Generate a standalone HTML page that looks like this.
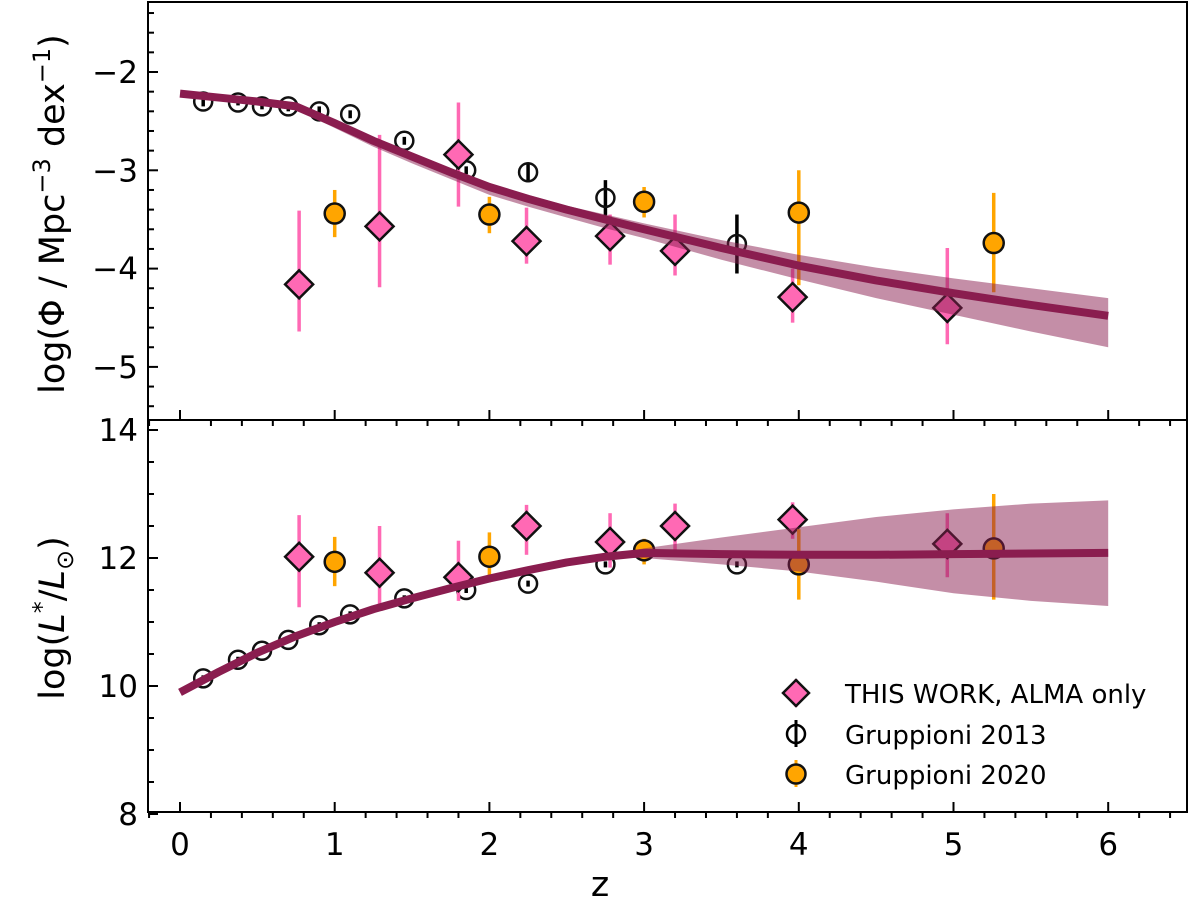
<!DOCTYPE html>
<html><head><meta charset="utf-8"><style>
html,body{margin:0;padding:0;background:#fff;}
svg{display:block;font-family:"DejaVu Sans","Liberation Sans",sans-serif;}
</style></head><body>
<svg id="chart" width="1200" height="908" viewBox="0 0 1200 908" xmlns="http://www.w3.org/2000/svg">
<g id="marks"></g>
<g id="axes"></g>
<text x="600" y="896" font-size="35" text-anchor="middle">z</text>
<text transform="translate(64,214) rotate(-90)" font-size="35" text-anchor="middle">log(Φ / Mpc<tspan dy="-14" font-size="24">−3</tspan><tspan dy="14"> dex</tspan><tspan dy="-14" font-size="24">−1</tspan><tspan dy="14">)</tspan></text>
<text transform="translate(64,618) rotate(-90)" font-size="35" text-anchor="middle">log(<tspan font-style="italic">L</tspan><tspan dy="-14" font-size="24">*</tspan><tspan dy="14">/</tspan><tspan font-style="italic">L</tspan><tspan dy="9" font-size="24">⊙</tspan><tspan dy="-9">)</tspan></text>
<g>
 <g>
  <line x1="796" y1="679" x2="796" y2="707" stroke="#ff69b4" stroke-width="3"/>
  <polygon points="796,680 809,693 796,706 783,693" fill="#ff69b4" stroke="#111" stroke-width="2.5"/>
  <text x="845" y="703" font-size="26">THIS WORK, ALMA only</text>
 </g>
 <g>
  <line x1="796" y1="720" x2="796" y2="747" stroke="#000" stroke-width="3"/>
  <circle cx="796" cy="734" r="9" fill="none" stroke="#000" stroke-width="2.5"/>
  <text x="845" y="744" font-size="26">Gruppioni 2013</text>
 </g>
 <g>
  <line x1="796" y1="760" x2="796" y2="787" stroke="#ffa500" stroke-width="3"/>
  <circle cx="796" cy="774" r="9.5" fill="#ffa500" stroke="#111" stroke-width="2.5"/>
  <text x="845" y="784" font-size="26">Gruppioni 2020</text>
 </g>
</g>
</svg>
<script>
// ---- data ----
const zThis = [0.77,1.29,1.8,2.24,2.78,3.2,3.96,4.96];
const phiThis = [-4.16,-3.57,-2.84,-3.72,-3.67,-3.82,-4.29,-4.4];
const phiThisHi = [-3.41,-2.64,-2.31,-3.38,-3.45,-3.45,-4.0,-3.79];
const phiThisLo = [-4.64,-4.19,-3.37,-3.95,-3.96,-4.07,-4.55,-4.77];
const lThis = [12.02,11.77,11.7,12.5,12.25,12.5,12.6,12.22];
const lThisHi = [12.67,12.5,12.27,12.83,12.7,12.85,12.87,12.7];
const lThisLo = [11.23,11.19,11.33,12.05,11.85,12.1,12.3,11.7];

const z13 = [0.15,0.375,0.53,0.7,0.9,1.1,1.45,1.85,2.25,2.75,3.6];
const phi13 = [-2.3,-2.31,-2.35,-2.35,-2.4,-2.43,-2.7,-3.0,-3.02,-3.28,-3.75];
const phi13Err = [0.05,0.03,0.03,0.05,0.05,0.04,0.04,0.04,0.1,0.18,0.3];
const l13 = [10.12,10.41,10.55,10.72,10.95,11.12,11.37,11.5,11.6,11.9,11.9];

const z20 = [1,2,3,4,5.26];
const phi20 = [-3.44,-3.45,-3.32,-3.43,-3.74];
const phi20Hi = [-3.2,-3.27,-3.17,-3.0,-3.23];
const phi20Lo = [-3.68,-3.64,-3.48,-4.17,-4.24];
const l20 = [11.94,12.02,12.12,11.9,12.15];
const l20Hi = [12.33,12.4,12.3,12.45,13.0];
const l20Lo = [11.56,11.62,11.9,11.35,11.35];

const zCurve = [0,0.25,0.5,0.75,1,1.25,1.5,1.75,2,2.25,2.5,2.75,3,3.5,4,4.5,5,5.5,6];
const phiCurve = [-2.22,-2.26,-2.3,-2.35,-2.52,-2.7,-2.86,-3.02,-3.17,-3.29,-3.4,-3.5,-3.6,-3.79,-3.97,-4.12,-4.25,-4.37,-4.48];
const phiBandHi = [-2.22,-2.26,-2.3,-2.35,-2.5,-2.68,-2.84,-2.99,-3.14,-3.25,-3.36,-3.45,-3.54,-3.71,-3.86,-3.99,-4.1,-4.2,-4.3];
const phiBandLo = [-2.25,-2.29,-2.33,-2.38,-2.57,-2.76,-2.93,-3.09,-3.25,-3.37,-3.48,-3.59,-3.69,-3.91,-4.11,-4.3,-4.47,-4.64,-4.8];
const lCurve = [9.9,10.22,10.52,10.78,11.0,11.2,11.37,11.53,11.68,11.81,11.93,12.02,12.08,12.06,12.05,12.05,12.06,12.07,12.08];
const lBandHi = [9.9,10.22,10.52,10.78,11.0,11.2,11.37,11.53,11.68,11.81,11.94,12.04,12.15,12.32,12.48,12.64,12.76,12.85,12.9];
const lBandLo = [9.9,10.22,10.52,10.78,11.0,11.2,11.37,11.53,11.68,11.81,11.92,12.0,12.0,11.9,11.79,11.63,11.45,11.33,11.25];

const xTicks = [0,1,2,3,4,5,6];
const topTicks = [-2,-3,-4,-5];
const botTicks = [8,10,12,14];

// ---- axes functions ----
const X0=148, X1=1187, TOP0=2, TOP1=420, BOT1=812;
const xs = z => 180 + 154.7*z;
const yt = v => 72 + (-2 - v)*98.3;
const yb = v => 558 - (v-12)*64;
const NS='http://www.w3.org/2000/svg';
function mk(parent, tag, attrs){const e=document.createElementNS(NS,tag);for(const k in attrs)e.setAttribute(k,attrs[k]);parent.appendChild(e);return e;}
const marks=document.getElementById('marks');
const axes=document.getElementById('axes');

function errbar(x,y1,y2,color,name){
  const e=mk(marks,'line',{x1:x,x2:x,y1:y1,y2:y2,stroke:color,'stroke-width':3.5});
  
  
}
function diamond(x,y,name){
  const e=mk(marks,'polygon',{points:`${x},${y-14} ${x+14},${y} ${x},${y+14} ${x-14},${y}`,fill:'#ff69b4',stroke:'#111','stroke-width':2.5});
  
  
}
function circ(x,y,fill,name){
  const e=mk(marks,'circle',{cx:x,cy:y,r:fill==='none'?9:10,fill:fill==='none'?'#fff':fill,'fill-opacity':fill==='none'?0:1,stroke:'#111','stroke-width':2.5});
  
  
}

z13.forEach((z,i)=>{
  const x=xs(z);
  errbar(x,yt(phi13[i]+phi13Err[i]),yt(phi13[i]-phi13Err[i]),'#000','g13-phi-error');
  circ(x,yt(phi13[i]),'none','g13-phi-point');
  errbar(x,yb(l13[i])-3,yb(l13[i])+3,'#000','g13-l-error');
  circ(x,yb(l13[i]),'none','g13-l-point');
});
zThis.forEach((z,i)=>{
  const x=xs(z);
  errbar(x,yt(phiThisHi[i]),yt(phiThisLo[i]),'#ff69b4','this-work-phi-error');
  diamond(x,yt(phiThis[i]),'this-work-phi-point');
  errbar(x,yb(lThisHi[i]),yb(lThisLo[i]),'#ff69b4','this-work-l-error');
  diamond(x,yb(lThis[i]),'this-work-l-point');
});
z20.forEach((z,i)=>{
  const x=xs(z);
  errbar(x,yt(phi20Hi[i]),yt(phi20Lo[i]),'#ffa500','g20-phi-error');
  circ(x,yt(phi20[i]),'#ffa500','g20-phi-point');
  errbar(x,yb(l20Hi[i]),yb(l20Lo[i]),'#ffa500','g20-l-error');
  circ(x,yb(l20[i]),'#ffa500','g20-l-point');
});

function band(hi,lo,fy,name){
  let d='M'+zCurve.map((z,i)=>xs(z)+','+fy(hi[i])).join(' L');
  d+=' L'+zCurve.map((z,i)=>[xs(z),fy(lo[i])]).reverse().map(p=>p.join(',')).join(' L')+' Z';
  const e=mk(marks,'path',{d:d,fill:'#8a1d4f','fill-opacity':0.5,stroke:'none'});
  
  
}
function curve(v,fy,name){
  const e=mk(marks,'polyline',{points:zCurve.map((z,i)=>xs(z)+','+fy(v[i])).join(' '),fill:'none',stroke:'#8a1d4f','stroke-width':8,'stroke-linejoin':'round'});
  
  
}
band(phiBandHi,phiBandLo,yt,'phi-confidence-band');
curve(phiCurve,yt,'phi-model-curve');
band(lBandHi,lBandLo,yb,'l-confidence-band');
curve(lCurve,yb,'l-model-curve');

const f1=mk(axes,'rect',{x:X0,y:TOP0,width:X1-X0,height:TOP1-TOP0,fill:'none',stroke:'#000','stroke-width':2});


const f2=mk(axes,'rect',{x:X0,y:TOP1,width:X1-X0,height:BOT1-TOP1,fill:'none',stroke:'#000','stroke-width':2});



function tick(x1,y1,x2,y2){mk(axes,'line',{x1,y1,x2,y2,stroke:'#000','stroke-width':2});}
for(let m=-0.2;m<=6.41;m+=0.2){
  const mm=Math.round(m*10)/10; const x=xs(mm);
  const major=Math.abs(mm-Math.round(mm))<1e-6;
  if(major){tick(x,TOP1,x,TOP1-10);tick(x,BOT1,x,BOT1-10);}
  else{tick(x,TOP1,x,TOP1+6);tick(x,BOT1,x,BOT1+6);}
}
xTicks.forEach(z=>{
  const t=mk(axes,'text',{x:xs(z),y:855,'font-size':31,'text-anchor':'middle'});t.textContent=z;
  
  
});
for(let v=-5.4;v<=-1.3;v+=0.2){const y=yt(v);const maj=Math.abs(v-Math.round(v))<1e-6;tick(X0,y,X0+(maj?10:6),y);}
topTicks.forEach(v=>{
  const t=mk(axes,'text',{x:138,y:yt(v)+11,'font-size':31,'text-anchor':'end'});t.textContent=String(v).replace('-','−');
  
  
});
for(let v=8;v<=14;v+=0.5){const y=yb(v);const maj=v%2===0;tick(X0,y,X0+(maj?10:6),y);}
botTicks.forEach(v=>{
  const t=mk(axes,'text',{x:138,y:yb(v)+11,'font-size':31,'text-anchor':'end'});t.textContent=v;
  
  
});
</script>
</body></html>
